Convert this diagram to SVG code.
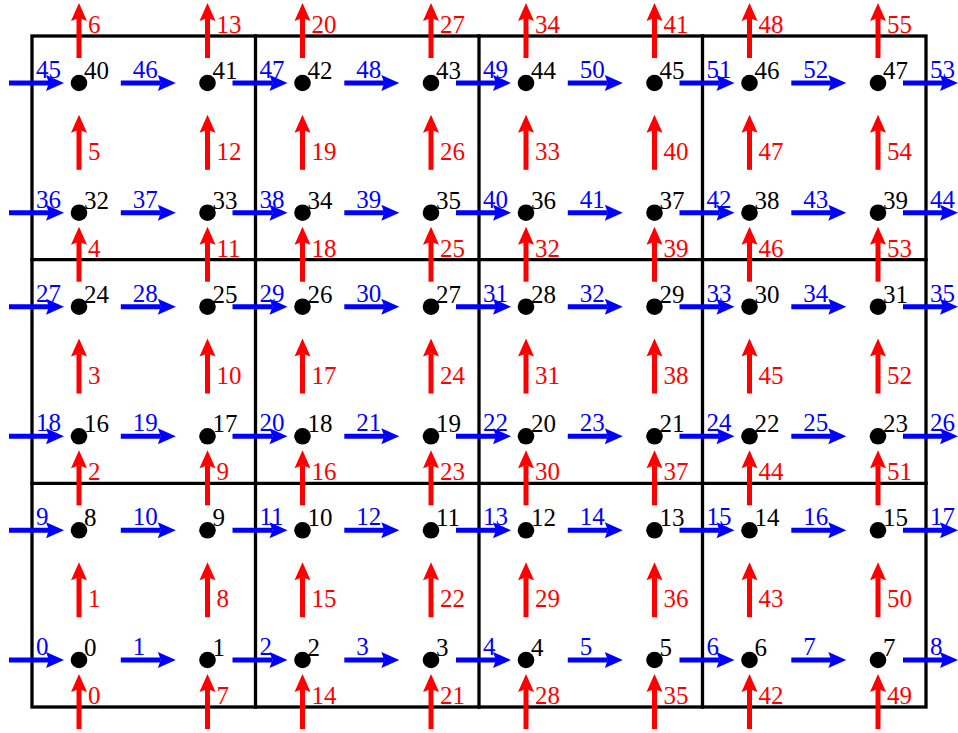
<svg xmlns="http://www.w3.org/2000/svg" width="958" height="733" viewBox="0 0 958 733">
<style>
text{font-family:"Liberation Serif","DejaVu Serif",serif;font-size:25px}
.k{fill:#000}
.b{fill:#0000ff}
.r{fill:#ff0000}
.grid{fill:none;stroke:#000;stroke-width:3.3;stroke-linecap:square}
.ba{stroke:#0000ff;stroke-width:5;marker-end:url(#hb)}
.ra{stroke:#ff0000;stroke-width:5;marker-end:url(#hr)}
.dot{fill:#000}
</style>
<defs>
<marker id="hb" markerUnits="userSpaceOnUse" markerWidth="30" markerHeight="30" refX="0" refY="0" orient="auto" overflow="visible"><path d="M-3,-8 L15,0 L-3,8 L0,0 Z" fill="#0000ff"/></marker>
<marker id="hr" markerUnits="userSpaceOnUse" markerWidth="30" markerHeight="30" refX="0" refY="0" orient="auto" overflow="visible"><path d="M-3,-8 L15,0 L-3,8 L0,0 Z" fill="#ff0000"/></marker>
</defs>
<rect width="958" height="733" fill="#fff"/>
<g id="grid" class="grid">
<rect x="32" y="36" width="894" height="671"/>
<line x1="255.5" y1="36" x2="255.5" y2="707"/>
<line x1="479" y1="36" x2="479" y2="707"/>
<line x1="702.5" y1="36" x2="702.5" y2="707"/>
<line x1="32" y1="259.7" x2="926" y2="259.7"/>
<line x1="32" y1="483.3" x2="926" y2="483.3"/>
</g>
<g id="connectors">
<g id="blue-row-0" transform="translate(0,660)">
<line class="ba" x1="9" y1="0" x2="49" y2="0"/><line class="ba" x1="120.8" y1="0" x2="160.8" y2="0"/><line class="ba" x1="232.5" y1="0" x2="272.5" y2="0"/><line class="ba" x1="344.3" y1="0" x2="384.3" y2="0"/><line class="ba" x1="456" y1="0" x2="496" y2="0"/><line class="ba" x1="567.8" y1="0" x2="607.8" y2="0"/><line class="ba" x1="679.5" y1="0" x2="719.5" y2="0"/><line class="ba" x1="791.3" y1="0" x2="831.3" y2="0"/><line class="ba" x1="903" y1="0" x2="943" y2="0"/>
<text class="b" x="36" y="-5">0</text><text class="b" x="132.8" y="-5">1</text><text class="b" x="259.5" y="-5">2</text><text class="b" x="356.3" y="-5">3</text><text class="b" x="483" y="-5">4</text><text class="b" x="579.8" y="-5">5</text><text class="b" x="706.5" y="-5">6</text><text class="b" x="803.3" y="-5">7</text><text class="b" x="930" y="-5">8</text>
</g>
<g id="blue-row-1" transform="translate(0,530.3)">
<line class="ba" x1="9" y1="0" x2="49" y2="0"/><line class="ba" x1="120.8" y1="0" x2="160.8" y2="0"/><line class="ba" x1="232.5" y1="0" x2="272.5" y2="0"/><line class="ba" x1="344.3" y1="0" x2="384.3" y2="0"/><line class="ba" x1="456" y1="0" x2="496" y2="0"/><line class="ba" x1="567.8" y1="0" x2="607.8" y2="0"/><line class="ba" x1="679.5" y1="0" x2="719.5" y2="0"/><line class="ba" x1="791.3" y1="0" x2="831.3" y2="0"/><line class="ba" x1="903" y1="0" x2="943" y2="0"/>
<text class="b" x="36" y="-5">9</text><text class="b" x="132.8" y="-5">10</text><text class="b" x="259.5" y="-5">11</text><text class="b" x="356.3" y="-5">12</text><text class="b" x="483" y="-5">13</text><text class="b" x="579.8" y="-5">14</text><text class="b" x="706.5" y="-5">15</text><text class="b" x="803.3" y="-5">16</text><text class="b" x="930" y="-5">17</text>
</g>
<g id="blue-row-2" transform="translate(0,436.3)">
<line class="ba" x1="9" y1="0" x2="49" y2="0"/><line class="ba" x1="120.8" y1="0" x2="160.8" y2="0"/><line class="ba" x1="232.5" y1="0" x2="272.5" y2="0"/><line class="ba" x1="344.3" y1="0" x2="384.3" y2="0"/><line class="ba" x1="456" y1="0" x2="496" y2="0"/><line class="ba" x1="567.8" y1="0" x2="607.8" y2="0"/><line class="ba" x1="679.5" y1="0" x2="719.5" y2="0"/><line class="ba" x1="791.3" y1="0" x2="831.3" y2="0"/><line class="ba" x1="903" y1="0" x2="943" y2="0"/>
<text class="b" x="36" y="-5">18</text><text class="b" x="132.8" y="-5">19</text><text class="b" x="259.5" y="-5">20</text><text class="b" x="356.3" y="-5">21</text><text class="b" x="483" y="-5">22</text><text class="b" x="579.8" y="-5">23</text><text class="b" x="706.5" y="-5">24</text><text class="b" x="803.3" y="-5">25</text><text class="b" x="930" y="-5">26</text>
</g>
<g id="blue-row-3" transform="translate(0,306.7)">
<line class="ba" x1="9" y1="0" x2="49" y2="0"/><line class="ba" x1="120.8" y1="0" x2="160.8" y2="0"/><line class="ba" x1="232.5" y1="0" x2="272.5" y2="0"/><line class="ba" x1="344.3" y1="0" x2="384.3" y2="0"/><line class="ba" x1="456" y1="0" x2="496" y2="0"/><line class="ba" x1="567.8" y1="0" x2="607.8" y2="0"/><line class="ba" x1="679.5" y1="0" x2="719.5" y2="0"/><line class="ba" x1="791.3" y1="0" x2="831.3" y2="0"/><line class="ba" x1="903" y1="0" x2="943" y2="0"/>
<text class="b" x="36" y="-5">27</text><text class="b" x="132.8" y="-5">28</text><text class="b" x="259.5" y="-5">29</text><text class="b" x="356.3" y="-5">30</text><text class="b" x="483" y="-5">31</text><text class="b" x="579.8" y="-5">32</text><text class="b" x="706.5" y="-5">33</text><text class="b" x="803.3" y="-5">34</text><text class="b" x="930" y="-5">35</text>
</g>
<g id="blue-row-4" transform="translate(0,212.7)">
<line class="ba" x1="9" y1="0" x2="49" y2="0"/><line class="ba" x1="120.8" y1="0" x2="160.8" y2="0"/><line class="ba" x1="232.5" y1="0" x2="272.5" y2="0"/><line class="ba" x1="344.3" y1="0" x2="384.3" y2="0"/><line class="ba" x1="456" y1="0" x2="496" y2="0"/><line class="ba" x1="567.8" y1="0" x2="607.8" y2="0"/><line class="ba" x1="679.5" y1="0" x2="719.5" y2="0"/><line class="ba" x1="791.3" y1="0" x2="831.3" y2="0"/><line class="ba" x1="903" y1="0" x2="943" y2="0"/>
<text class="b" x="36" y="-5">36</text><text class="b" x="132.8" y="-5">37</text><text class="b" x="259.5" y="-5">38</text><text class="b" x="356.3" y="-5">39</text><text class="b" x="483" y="-5">40</text><text class="b" x="579.8" y="-5">41</text><text class="b" x="706.5" y="-5">42</text><text class="b" x="803.3" y="-5">43</text><text class="b" x="930" y="-5">44</text>
</g>
<g id="blue-row-5" transform="translate(0,83)">
<line class="ba" x1="9" y1="0" x2="49" y2="0"/><line class="ba" x1="120.8" y1="0" x2="160.8" y2="0"/><line class="ba" x1="232.5" y1="0" x2="272.5" y2="0"/><line class="ba" x1="344.3" y1="0" x2="384.3" y2="0"/><line class="ba" x1="456" y1="0" x2="496" y2="0"/><line class="ba" x1="567.8" y1="0" x2="607.8" y2="0"/><line class="ba" x1="679.5" y1="0" x2="719.5" y2="0"/><line class="ba" x1="791.3" y1="0" x2="831.3" y2="0"/><line class="ba" x1="903" y1="0" x2="943" y2="0"/>
<text class="b" x="36" y="-5">45</text><text class="b" x="132.8" y="-5">46</text><text class="b" x="259.5" y="-5">47</text><text class="b" x="356.3" y="-5">48</text><text class="b" x="483" y="-5">49</text><text class="b" x="579.8" y="-5">50</text><text class="b" x="706.5" y="-5">51</text><text class="b" x="803.3" y="-5">52</text><text class="b" x="930" y="-5">53</text>
</g>
<g id="red-col-0" transform="translate(79,0)">
<line class="ra" x1="0" y1="729" x2="0" y2="689"/><line class="ra" x1="0" y1="617.2" x2="0" y2="577.2"/><line class="ra" x1="0" y1="505.3" x2="0" y2="465.3"/><line class="ra" x1="0" y1="393.5" x2="0" y2="353.5"/><line class="ra" x1="0" y1="281.7" x2="0" y2="241.7"/><line class="ra" x1="0" y1="169.8" x2="0" y2="129.8"/><line class="ra" x1="0" y1="58" x2="0" y2="18"/>
<text class="r" x="9" y="704">0</text><text class="r" x="9" y="607.2">1</text><text class="r" x="9" y="480.3">2</text><text class="r" x="9" y="383.5">3</text><text class="r" x="9" y="256.7">4</text><text class="r" x="9" y="159.8">5</text><text class="r" x="9" y="33">6</text>
</g>
<g id="red-col-1" transform="translate(207.5,0)">
<line class="ra" x1="0" y1="729" x2="0" y2="689"/><line class="ra" x1="0" y1="617.2" x2="0" y2="577.2"/><line class="ra" x1="0" y1="505.3" x2="0" y2="465.3"/><line class="ra" x1="0" y1="393.5" x2="0" y2="353.5"/><line class="ra" x1="0" y1="281.7" x2="0" y2="241.7"/><line class="ra" x1="0" y1="169.8" x2="0" y2="129.8"/><line class="ra" x1="0" y1="58" x2="0" y2="18"/>
<text class="r" x="9" y="704">7</text><text class="r" x="9" y="607.2">8</text><text class="r" x="9" y="480.3">9</text><text class="r" x="9" y="383.5">10</text><text class="r" x="9" y="256.7">11</text><text class="r" x="9" y="159.8">12</text><text class="r" x="9" y="33">13</text>
</g>
<g id="red-col-2" transform="translate(302.5,0)">
<line class="ra" x1="0" y1="729" x2="0" y2="689"/><line class="ra" x1="0" y1="617.2" x2="0" y2="577.2"/><line class="ra" x1="0" y1="505.3" x2="0" y2="465.3"/><line class="ra" x1="0" y1="393.5" x2="0" y2="353.5"/><line class="ra" x1="0" y1="281.7" x2="0" y2="241.7"/><line class="ra" x1="0" y1="169.8" x2="0" y2="129.8"/><line class="ra" x1="0" y1="58" x2="0" y2="18"/>
<text class="r" x="9" y="704">14</text><text class="r" x="9" y="607.2">15</text><text class="r" x="9" y="480.3">16</text><text class="r" x="9" y="383.5">17</text><text class="r" x="9" y="256.7">18</text><text class="r" x="9" y="159.8">19</text><text class="r" x="9" y="33">20</text>
</g>
<g id="red-col-3" transform="translate(431,0)">
<line class="ra" x1="0" y1="729" x2="0" y2="689"/><line class="ra" x1="0" y1="617.2" x2="0" y2="577.2"/><line class="ra" x1="0" y1="505.3" x2="0" y2="465.3"/><line class="ra" x1="0" y1="393.5" x2="0" y2="353.5"/><line class="ra" x1="0" y1="281.7" x2="0" y2="241.7"/><line class="ra" x1="0" y1="169.8" x2="0" y2="129.8"/><line class="ra" x1="0" y1="58" x2="0" y2="18"/>
<text class="r" x="9" y="704">21</text><text class="r" x="9" y="607.2">22</text><text class="r" x="9" y="480.3">23</text><text class="r" x="9" y="383.5">24</text><text class="r" x="9" y="256.7">25</text><text class="r" x="9" y="159.8">26</text><text class="r" x="9" y="33">27</text>
</g>
<g id="red-col-4" transform="translate(526,0)">
<line class="ra" x1="0" y1="729" x2="0" y2="689"/><line class="ra" x1="0" y1="617.2" x2="0" y2="577.2"/><line class="ra" x1="0" y1="505.3" x2="0" y2="465.3"/><line class="ra" x1="0" y1="393.5" x2="0" y2="353.5"/><line class="ra" x1="0" y1="281.7" x2="0" y2="241.7"/><line class="ra" x1="0" y1="169.8" x2="0" y2="129.8"/><line class="ra" x1="0" y1="58" x2="0" y2="18"/>
<text class="r" x="9" y="704">28</text><text class="r" x="9" y="607.2">29</text><text class="r" x="9" y="480.3">30</text><text class="r" x="9" y="383.5">31</text><text class="r" x="9" y="256.7">32</text><text class="r" x="9" y="159.8">33</text><text class="r" x="9" y="33">34</text>
</g>
<g id="red-col-5" transform="translate(654.5,0)">
<line class="ra" x1="0" y1="729" x2="0" y2="689"/><line class="ra" x1="0" y1="617.2" x2="0" y2="577.2"/><line class="ra" x1="0" y1="505.3" x2="0" y2="465.3"/><line class="ra" x1="0" y1="393.5" x2="0" y2="353.5"/><line class="ra" x1="0" y1="281.7" x2="0" y2="241.7"/><line class="ra" x1="0" y1="169.8" x2="0" y2="129.8"/><line class="ra" x1="0" y1="58" x2="0" y2="18"/>
<text class="r" x="9" y="704">35</text><text class="r" x="9" y="607.2">36</text><text class="r" x="9" y="480.3">37</text><text class="r" x="9" y="383.5">38</text><text class="r" x="9" y="256.7">39</text><text class="r" x="9" y="159.8">40</text><text class="r" x="9" y="33">41</text>
</g>
<g id="red-col-6" transform="translate(749.5,0)">
<line class="ra" x1="0" y1="729" x2="0" y2="689"/><line class="ra" x1="0" y1="617.2" x2="0" y2="577.2"/><line class="ra" x1="0" y1="505.3" x2="0" y2="465.3"/><line class="ra" x1="0" y1="393.5" x2="0" y2="353.5"/><line class="ra" x1="0" y1="281.7" x2="0" y2="241.7"/><line class="ra" x1="0" y1="169.8" x2="0" y2="129.8"/><line class="ra" x1="0" y1="58" x2="0" y2="18"/>
<text class="r" x="9" y="704">42</text><text class="r" x="9" y="607.2">43</text><text class="r" x="9" y="480.3">44</text><text class="r" x="9" y="383.5">45</text><text class="r" x="9" y="256.7">46</text><text class="r" x="9" y="159.8">47</text><text class="r" x="9" y="33">48</text>
</g>
<g id="red-col-7" transform="translate(878,0)">
<line class="ra" x1="0" y1="729" x2="0" y2="689"/><line class="ra" x1="0" y1="617.2" x2="0" y2="577.2"/><line class="ra" x1="0" y1="505.3" x2="0" y2="465.3"/><line class="ra" x1="0" y1="393.5" x2="0" y2="353.5"/><line class="ra" x1="0" y1="281.7" x2="0" y2="241.7"/><line class="ra" x1="0" y1="169.8" x2="0" y2="129.8"/><line class="ra" x1="0" y1="58" x2="0" y2="18"/>
<text class="r" x="9" y="704">49</text><text class="r" x="9" y="607.2">50</text><text class="r" x="9" y="480.3">51</text><text class="r" x="9" y="383.5">52</text><text class="r" x="9" y="256.7">53</text><text class="r" x="9" y="159.8">54</text><text class="r" x="9" y="33">55</text>
</g>
</g>
<g id="nodes">
<g id="node-0" transform="translate(79,660)"><circle class="dot" r="8.3"/><text class="k" x="5" y="-4">0</text></g>
<g id="node-1" transform="translate(207.5,660)"><circle class="dot" r="8.3"/><text class="k" x="5" y="-4">1</text></g>
<g id="node-2" transform="translate(302.5,660)"><circle class="dot" r="8.3"/><text class="k" x="5" y="-4">2</text></g>
<g id="node-3" transform="translate(431,660)"><circle class="dot" r="8.3"/><text class="k" x="5" y="-4">3</text></g>
<g id="node-4" transform="translate(526,660)"><circle class="dot" r="8.3"/><text class="k" x="5" y="-4">4</text></g>
<g id="node-5" transform="translate(654.5,660)"><circle class="dot" r="8.3"/><text class="k" x="5" y="-4">5</text></g>
<g id="node-6" transform="translate(749.5,660)"><circle class="dot" r="8.3"/><text class="k" x="5" y="-4">6</text></g>
<g id="node-7" transform="translate(878,660)"><circle class="dot" r="8.3"/><text class="k" x="5" y="-4">7</text></g>
<g id="node-8" transform="translate(79,530.3)"><circle class="dot" r="8.3"/><text class="k" x="5" y="-4">8</text></g>
<g id="node-9" transform="translate(207.5,530.3)"><circle class="dot" r="8.3"/><text class="k" x="5" y="-4">9</text></g>
<g id="node-10" transform="translate(302.5,530.3)"><circle class="dot" r="8.3"/><text class="k" x="5" y="-4">10</text></g>
<g id="node-11" transform="translate(431,530.3)"><circle class="dot" r="8.3"/><text class="k" x="5" y="-4">11</text></g>
<g id="node-12" transform="translate(526,530.3)"><circle class="dot" r="8.3"/><text class="k" x="5" y="-4">12</text></g>
<g id="node-13" transform="translate(654.5,530.3)"><circle class="dot" r="8.3"/><text class="k" x="5" y="-4">13</text></g>
<g id="node-14" transform="translate(749.5,530.3)"><circle class="dot" r="8.3"/><text class="k" x="5" y="-4">14</text></g>
<g id="node-15" transform="translate(878,530.3)"><circle class="dot" r="8.3"/><text class="k" x="5" y="-4">15</text></g>
<g id="node-16" transform="translate(79,436.3)"><circle class="dot" r="8.3"/><text class="k" x="5" y="-4">16</text></g>
<g id="node-17" transform="translate(207.5,436.3)"><circle class="dot" r="8.3"/><text class="k" x="5" y="-4">17</text></g>
<g id="node-18" transform="translate(302.5,436.3)"><circle class="dot" r="8.3"/><text class="k" x="5" y="-4">18</text></g>
<g id="node-19" transform="translate(431,436.3)"><circle class="dot" r="8.3"/><text class="k" x="5" y="-4">19</text></g>
<g id="node-20" transform="translate(526,436.3)"><circle class="dot" r="8.3"/><text class="k" x="5" y="-4">20</text></g>
<g id="node-21" transform="translate(654.5,436.3)"><circle class="dot" r="8.3"/><text class="k" x="5" y="-4">21</text></g>
<g id="node-22" transform="translate(749.5,436.3)"><circle class="dot" r="8.3"/><text class="k" x="5" y="-4">22</text></g>
<g id="node-23" transform="translate(878,436.3)"><circle class="dot" r="8.3"/><text class="k" x="5" y="-4">23</text></g>
<g id="node-24" transform="translate(79,306.7)"><circle class="dot" r="8.3"/><text class="k" x="5" y="-4">24</text></g>
<g id="node-25" transform="translate(207.5,306.7)"><circle class="dot" r="8.3"/><text class="k" x="5" y="-4">25</text></g>
<g id="node-26" transform="translate(302.5,306.7)"><circle class="dot" r="8.3"/><text class="k" x="5" y="-4">26</text></g>
<g id="node-27" transform="translate(431,306.7)"><circle class="dot" r="8.3"/><text class="k" x="5" y="-4">27</text></g>
<g id="node-28" transform="translate(526,306.7)"><circle class="dot" r="8.3"/><text class="k" x="5" y="-4">28</text></g>
<g id="node-29" transform="translate(654.5,306.7)"><circle class="dot" r="8.3"/><text class="k" x="5" y="-4">29</text></g>
<g id="node-30" transform="translate(749.5,306.7)"><circle class="dot" r="8.3"/><text class="k" x="5" y="-4">30</text></g>
<g id="node-31" transform="translate(878,306.7)"><circle class="dot" r="8.3"/><text class="k" x="5" y="-4">31</text></g>
<g id="node-32" transform="translate(79,212.7)"><circle class="dot" r="8.3"/><text class="k" x="5" y="-4">32</text></g>
<g id="node-33" transform="translate(207.5,212.7)"><circle class="dot" r="8.3"/><text class="k" x="5" y="-4">33</text></g>
<g id="node-34" transform="translate(302.5,212.7)"><circle class="dot" r="8.3"/><text class="k" x="5" y="-4">34</text></g>
<g id="node-35" transform="translate(431,212.7)"><circle class="dot" r="8.3"/><text class="k" x="5" y="-4">35</text></g>
<g id="node-36" transform="translate(526,212.7)"><circle class="dot" r="8.3"/><text class="k" x="5" y="-4">36</text></g>
<g id="node-37" transform="translate(654.5,212.7)"><circle class="dot" r="8.3"/><text class="k" x="5" y="-4">37</text></g>
<g id="node-38" transform="translate(749.5,212.7)"><circle class="dot" r="8.3"/><text class="k" x="5" y="-4">38</text></g>
<g id="node-39" transform="translate(878,212.7)"><circle class="dot" r="8.3"/><text class="k" x="5" y="-4">39</text></g>
<g id="node-40" transform="translate(79,83)"><circle class="dot" r="8.3"/><text class="k" x="5" y="-4">40</text></g>
<g id="node-41" transform="translate(207.5,83)"><circle class="dot" r="8.3"/><text class="k" x="5" y="-4">41</text></g>
<g id="node-42" transform="translate(302.5,83)"><circle class="dot" r="8.3"/><text class="k" x="5" y="-4">42</text></g>
<g id="node-43" transform="translate(431,83)"><circle class="dot" r="8.3"/><text class="k" x="5" y="-4">43</text></g>
<g id="node-44" transform="translate(526,83)"><circle class="dot" r="8.3"/><text class="k" x="5" y="-4">44</text></g>
<g id="node-45" transform="translate(654.5,83)"><circle class="dot" r="8.3"/><text class="k" x="5" y="-4">45</text></g>
<g id="node-46" transform="translate(749.5,83)"><circle class="dot" r="8.3"/><text class="k" x="5" y="-4">46</text></g>
<g id="node-47" transform="translate(878,83)"><circle class="dot" r="8.3"/><text class="k" x="5" y="-4">47</text></g>
</g>
</svg>
